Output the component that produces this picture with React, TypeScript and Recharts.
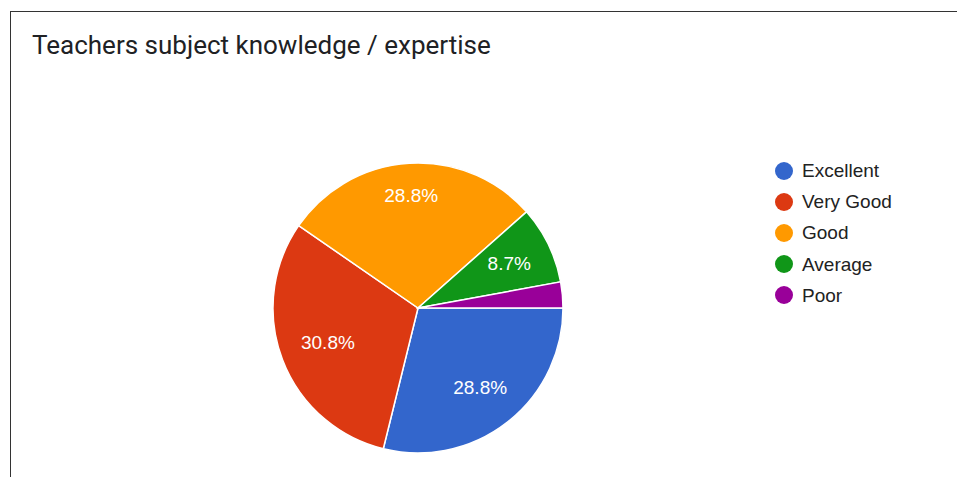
import React from "react";
import { PieChart, Pie, Cell, Legend } from "recharts";

const categories = ["Excellent", "Very Good", "Good", "Average", "Poor"];
const counts = [30, 32, 30, 9, 3];
const colors = ["#3366cc", "#dc3912", "#ff9900", "#109618", "#990099"];
const title = "Teachers subject knowledge / expertise";

const data = categories.map((name, i) => ({ name, value: counts[i] }));

const W = 957;
const H = 477;
const CX = 418;
const CY = 308;
const R = 145;
const LABEL_FONT = 19;
const LEGEND_FONT = 19;

const charW: Record<string, number> = { ".": 0.278, "%": 0.889 };
const textWidth = (s: string, fs: number) =>
  s.split("").reduce((a, ch) => a + (charW[ch] ?? 0.556), 0) * fs;

const renderLabel = (props: any) => {
  const { midAngle, percent } = props;
  if (percent < 0.05) return null;
  const txt = (percent * 100).toFixed(1) + "%";
  const rad = (-midAngle * Math.PI) / 180;
  const c = Math.cos(rad);
  const s = Math.sin(rad);
  const w = textWidth(txt, LABEL_FONT) / 2;
  const h = 0.36 * LABEL_FONT;
  const Rc = 0.855 * R;
  const b = w * Math.abs(c) + h * Math.abs(s);
  const d = -b + Math.sqrt(b * b - (w * w + h * h - Rc * Rc));
  const x = CX + d * c;
  const y = CY + d * s;
  return (
    <text
      x={x}
      y={y + 0.36 * LABEL_FONT}
      fill="#ffffff"
      textAnchor="middle"
      fontSize={LABEL_FONT}
      fontFamily="'Liberation Sans', Arial, sans-serif"
    >
      {txt}
    </text>
  );
};

const LegendContent = () => (
  <div style={{ fontFamily: "'Liberation Sans', Arial, sans-serif", fontSize: LEGEND_FONT, color: "#222222" }}>
    {categories.map((c, i) => (
      <div key={c} style={{ display: "flex", alignItems: "center", height: 31.2 }}>
        <span
          style={{
            display: "inline-block",
            width: 18,
            height: 18,
            borderRadius: "50%",
            background: colors[i],
            marginRight: 9,
          }}
        />
        <span style={{ lineHeight: "31.2px" }}>{c}</span>
      </div>
    ))}
  </div>
);

export default function App() {
  return (
    <div style={{ position: "absolute", left: 0, top: 0, width: W, height: H, background: "#ffffff", overflow: "hidden" }}>
      <div
        style={{
          position: "absolute",
          left: 10,
          top: 11,
          width: W,
          height: H,
          borderLeft: "1px solid #333333",
          borderTop: "1px solid #333333",
        }}
      />
      <div
        style={{
          position: "absolute",
          left: 32,
          top: 28,
          fontFamily: "Roboto, sans-serif",
          fontSize: 26,
          lineHeight: "34px",
          color: "#202124",
          whiteSpace: "nowrap",
        }}
      >
        {title}
      </div>
      <div style={{ position: "absolute", left: 0, top: 0 }}>
        <PieChart width={W} height={H} margin={{ top: 0, right: 0, bottom: 0, left: 0 }}>
          <Pie
            data={data}
            dataKey="value"
            nameKey="name"
            cx={CX}
            cy={CY}
            outerRadius={R}
            startAngle={0}
            endAngle={-360}
            stroke="#ffffff"
            strokeWidth={1.5}
            label={renderLabel}
            labelLine={false}
            isAnimationActive={false}
          >
            {data.map((d, i) => (
              <Cell key={d.name} fill={colors[i]} />
            ))}
          </Pie>
          <Legend
            content={<LegendContent />}
            wrapperStyle={{ position: "absolute", left: 775, top: 155, width: 180 }}
          />
        </PieChart>
      </div>
    </div>
  );
}
